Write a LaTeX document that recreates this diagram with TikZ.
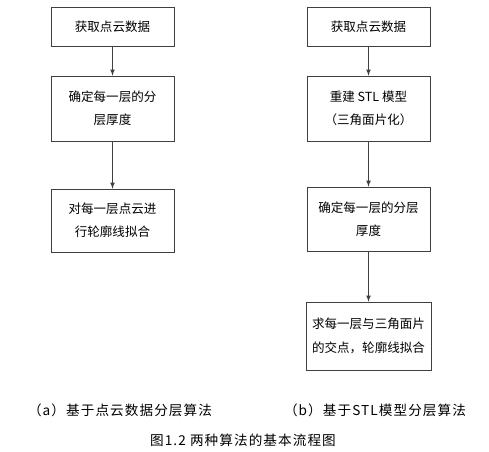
\documentclass[tikz,border=0pt]{standalone}
\usepackage{fontspec}
\setmainfont{Noto Sans CJK SC}
\newfontfamily\capfont[LetterSpace=8]{Noto Sans CJK SC}
\usetikzlibrary{positioning}

\tikzset{
  stepbox/.style={draw=black!75, rectangle, minimum width=92.25pt, align=center,
    font=\fontsize{9.4}{17.5}\selectfont, inner sep=2pt},
  flow/.style={-latex, black!75, semithick},
  caption/.style={font=\capfont\fontsize{10.2}{12}\selectfont}
}

\begin{document}
\begin{tikzpicture}[x=0.75pt, y=-0.75pt]
      \useasboundingbox[fill=white] (0,0) rectangle (489,452);

      % (a) point cloud slicing
      \node[stepbox, minimum height=29.25pt] (a1) at (112.5,26.5) {获取点云数据};
      \node[stepbox, minimum height=48.75pt] (a2) at (112.5,108.5) {确定每一层的分\\层厚度};
      \node[stepbox, minimum height=47.25pt] (a3) at (112.5,220.5) {对每一层点云进\\行轮廓线拟合};
      \draw[flow] (a1) -- (a2);
      \draw[flow] (a2) -- (a3);

      % (b) STL model slicing
      \node[stepbox, minimum height=29.25pt] (b1) at (368.5,26.5) {获取点云数据};
      \node[stepbox, minimum height=48.75pt] (b2) at (368.5,108.5) {重建 STL 模型\\（三角面片化）};
      \node[stepbox, minimum height=48pt] (b3) at (368.5,219) {确定每一层的分层\\厚度};
      \node[stepbox, minimum height=51pt, minimum width=93.75pt] (b4) at (368.5,336) {求每一层与三角面片\\的交点，轮廓线拟合};
      \draw[flow] (b1) -- (b2);
      \draw[flow] (b2) -- (b3);
      \draw[flow] (b3) -- (b4);

      % captions
      \node[caption] (capa) at (120,410) {（a）基于点云数据分层算法};
      \node[caption] (capb) at (375,410) {（b）基于STL模型分层算法};
      \node[caption] (fig) at (243,440) {图1.2 两种算法的基本流程图};
    \end{tikzpicture}
\end{document}
